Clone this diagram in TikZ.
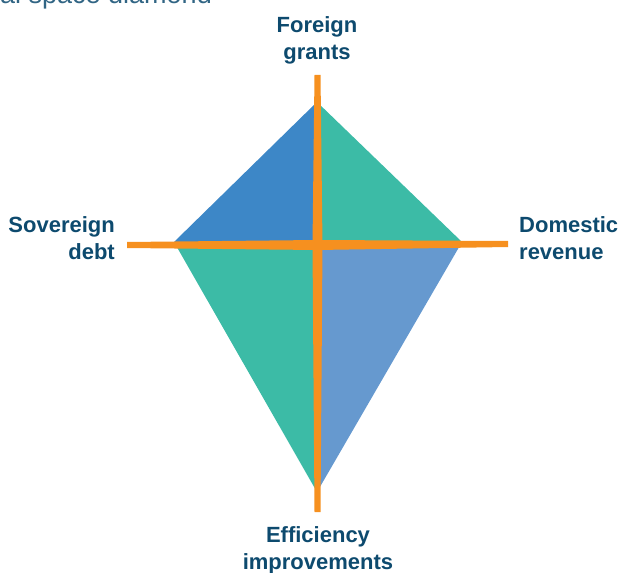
\documentclass[tikz,border=0pt]{standalone}
\usepackage{fontspec}
\setmainfont{Liberation Sans}
\definecolor{axisorange}{HTML}{F6901F}
\definecolor{kiteblue}{HTML}{3D87C7}
\definecolor{kiteteal}{HTML}{3CBBA6}
\definecolor{kitelight}{HTML}{6699CF}
\definecolor{labelblue}{HTML}{0D4A6E}
\begin{document}
\begin{tikzpicture}[x=1bp,y=-1bp,
    lbl/.style={inner sep=0pt,text=labelblue,font=\fontsize{22bp}{27bp}\selectfont\bfseries}]
        \useasboundingbox (0,0) rectangle (618,573);
        \clip (0,0) rectangle (618,573);
        \node[anchor=base west,inner sep=0pt,text=labelblue!85,font=\fontsize{27bp}{32bp}\selectfont] (title) at (-49.5,4) {Fiscal space diamond};
        \coordinate (c) at (317,244);
        \coordinate (top) at (317,102);
        \coordinate (right) at (462,242);
        \coordinate (bottom) at (317,492);
        \coordinate (left) at (174,242);
        \fill[kiteblue] (c)--(left)--(top)--cycle;
        \fill[kiteteal] (c)--(top)--(right)--cycle;
        \fill[kitelight] (c)--(right)--(bottom)--cycle;
        \fill[kiteteal] (c)--(bottom)--(left)--cycle;
        \fill[axisorange] (314.5,75)--(320.5,75)--(322.5,245)--(320.5,512)--(314.5,512)--(312.5,245)--cycle;
        \fill[axisorange] (127,242)--(127,248)--(317,250)--(508,247)--(508,241)--(317,240)--cycle;
        \node[lbl,anchor=north,align=center] (fg) at (317,16) {Foreign\\grants};
        \node[lbl,anchor=north east,align=right] (sd) at (115,216) {Sovereign\\debt};
        \node[lbl,anchor=north west,align=left] (dr) at (519,216) {Domestic\\revenue};
        \node[lbl,anchor=north,align=center] (ei) at (318,526) {Efficiency\\improvements};
    \end{tikzpicture}
\end{document}
